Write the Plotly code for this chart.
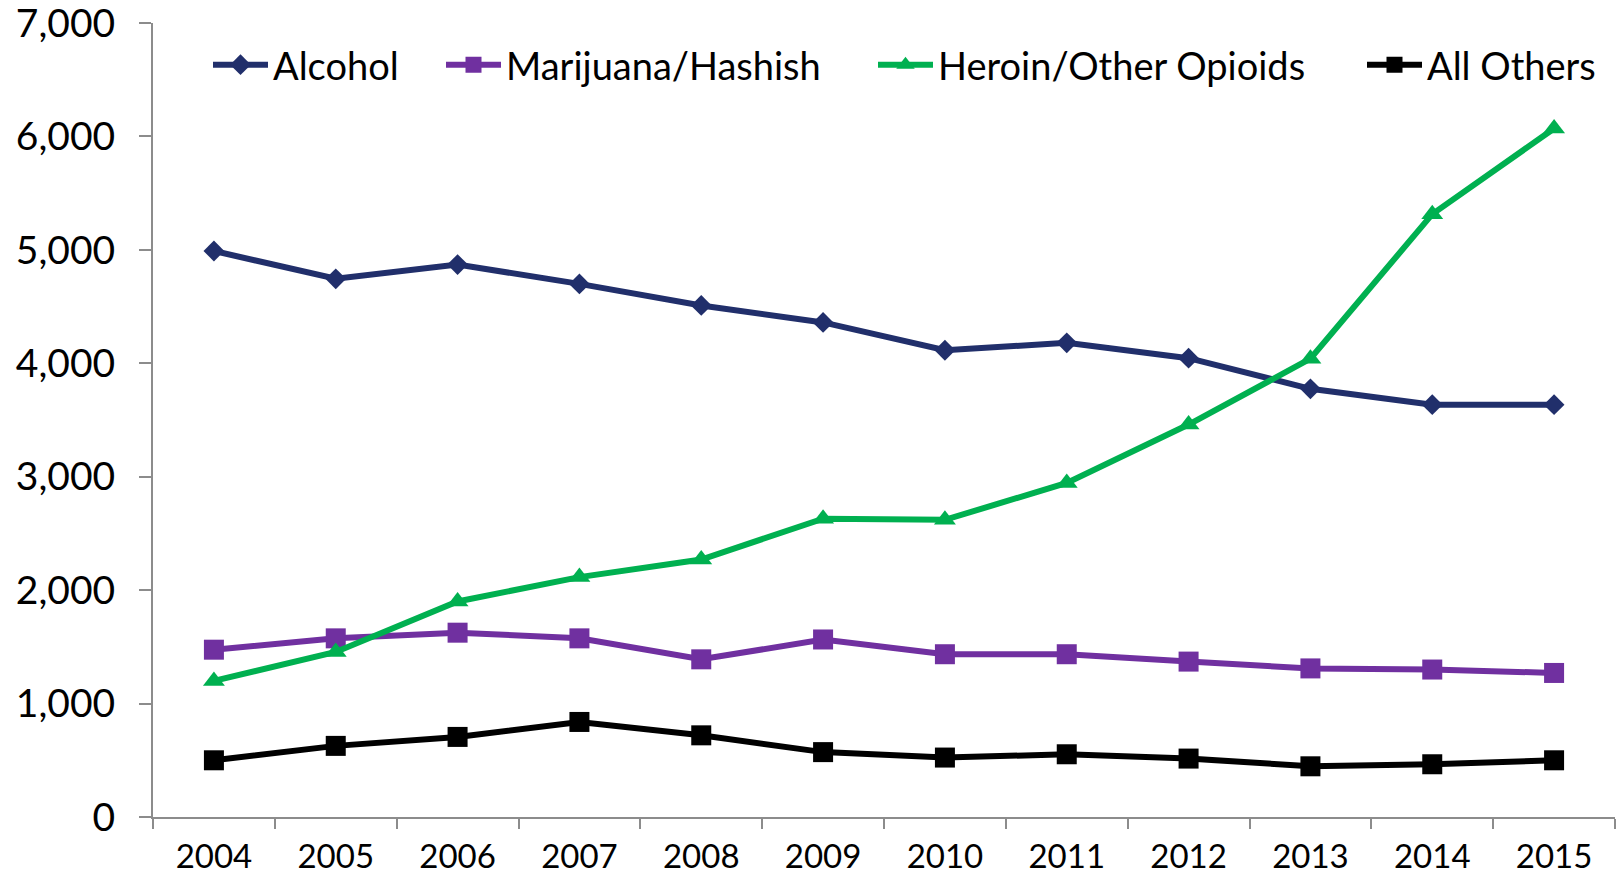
import plotly.graph_objects as go

# Treatment admissions by primary substance, 2004-2015
years = ["2004", "2005", "2006", "2007", "2008", "2009",
         "2010", "2011", "2012", "2013", "2014", "2015"]
alcohol = [4990, 4745, 4870, 4700, 4510, 4360, 4115, 4180, 4045, 3775, 3635, 3635]
marijuana = [1475, 1575, 1625, 1575, 1390, 1565, 1435, 1435, 1370, 1310, 1300, 1270]
heroin = [1200, 1455, 1900, 2115, 2270, 2630, 2620, 2945, 3460, 4040, 5315, 6070]
all_others = [500, 627, 706, 838, 720, 572, 524, 553, 515, 447, 465, 500]

y_ticks = [0, 1000, 2000, 3000, 4000, 5000, 6000, 7000]

# name, values, colour, marker symbol, marker size, legend id, legend x (px)
series = [
    ("Alcohol", alcohol, "#212F6B", "diamond", 16, "legend", 208),
    ("Marijuana/Hashish", marijuana, "#7030A0", "square", 20, "legend2", 441),
    ("Heroin/Other Opioids", heroin, "#00B050", "triangle-up", 19, "legend3", 873),
    ("All Others", all_others, "#000000", "square", 20, "legend4", 1362),
]

FONT = "Lato, 'Liberation Sans', sans-serif"
AXIS_GRAY = "#8C8C8C"
W, H = 1623, 876
ML, MR, MT, MB = 153, 8, 23, 59
plot_w = W - ML - MR
plot_h = H - MT - MB

fig = go.Figure()
legends = {}
for name, vals, color, symbol, size, leg, leg_px in series:
    fig.add_trace(go.Scatter(
        x=years, y=vals, name=name, mode="lines+markers",
        line=dict(color=color, width=6),
        marker=dict(symbol=symbol, size=size, color=color),
        legend=leg,
    ))
    legends[leg] = dict(
        orientation="h", x=(leg_px - ML) / plot_w, xanchor="left",
        y=(H - MB - 65) / plot_h, yanchor="middle",
        font=dict(size=38, family=FONT, color="black"),
        itemwidth=55, bgcolor="rgba(0,0,0,0)",
    )

fig.update_layout(
    width=W, height=H,
    margin=dict(l=ML, r=MR, t=MT, b=MB, autoexpand=False),
    paper_bgcolor="white", plot_bgcolor="white",
    font=dict(family=FONT, color="black"),
    showlegend=True,
    xaxis=dict(
        type="category", tickson="boundaries", range=[-0.5, 11.5],
        showline=True, linecolor=AXIS_GRAY, linewidth=2,
        ticks="outside", ticklen=10, tickcolor=AXIS_GRAY, tickwidth=2,
        tickfont=dict(size=33, family=FONT, color="black"),
        showgrid=False, zeroline=False, ticklabelstandoff=9,
    ),
    yaxis=dict(
        range=[0, 7000], tickvals=y_ticks, tickformat=",",
        showline=True, linecolor=AXIS_GRAY, linewidth=2,
        ticks="outside", ticklen=12, tickcolor=AXIS_GRAY, tickwidth=2,
        tickfont=dict(size=39, family=FONT, color="black"),
        showgrid=False, zeroline=False, ticklabelstandoff=16,
        ticklabeloverflow="allow",
    ),
    **legends,
)

fig.write_html("out.html")
